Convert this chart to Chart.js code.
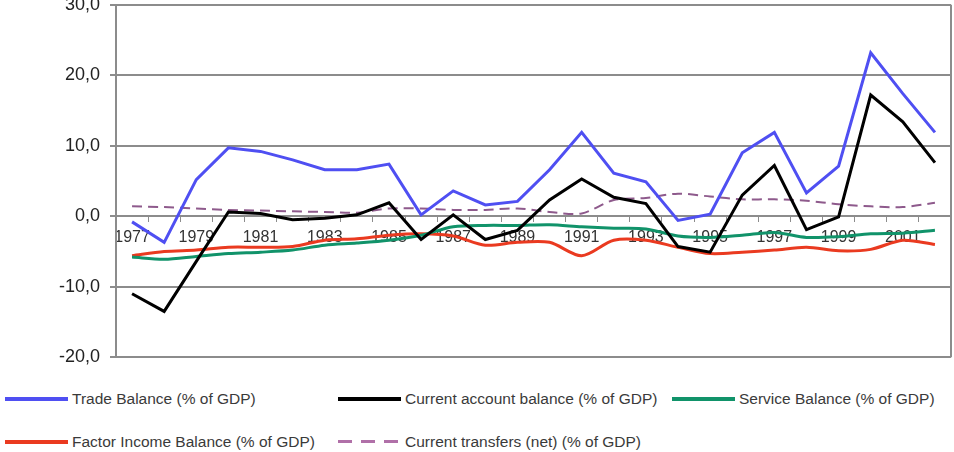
<!DOCTYPE html>
<html>
<head>
<meta charset="utf-8">
<script src="https://cdn.jsdelivr.net/npm/chart.js@4.4.0/dist/chart.umd.min.js"></script>
<style>
  body { margin: 0; background: #fff; width: 954px; height: 452px; overflow: hidden; position: relative; font-family: "Liberation Sans", Arial, sans-serif; }
  #wrap { position: absolute; left: 0; top: -16px; width: 954px; height: 394px; }
  .leg { position: absolute; height: 16px; }
  .leg .swatch { position: absolute; left: 0; top: 6px; width: 63px; height: 4px; }
  .leg .txt { position: absolute; left: 67px; top: 0; font-size: 15.5px; line-height: 16px; color: #3a3a3a; white-space: nowrap; }
</style>
</head>
<body>
<div id="wrap"><canvas id="myChart"></canvas></div>
<div id="legend"></div>
<script>
var years = ["1977", "1978", "1979", "1980", "1981", "1982", "1983", "1984", "1985", "1986", "1987", "1988", "1989",
  "1990", "1991", "1992", "1993", "1994", "1995", "1996", "1997", "1998", "1999", "2000", "2001", "2002"];

var tradeBalance = [-0.8, -3.7, 5.2, 9.7, 9.2, 8.0, 6.6, 6.6, 7.4, 0.2, 3.6, 1.6, 2.1,
  6.6, 11.9, 6.1, 4.9, -0.6, 0.3, 9.0, 11.9, 3.3, 7.1, 23.2, 17.4, 11.9];
var currentAccount = [-11.0, -13.5, -6.4, 0.6, 0.4, -0.5, -0.3, 0.2, 1.9, -3.3, 0.2, -3.3, -2.0,
  2.3, 5.3, 2.7, 1.8, -4.3, -5.1, 3.0, 7.2, -1.9, -0.1, 17.2, 13.4, 7.6];
var serviceBalance = [-5.8, -6.1, -5.7, -5.3, -5.1, -4.8, -4.1, -3.8, -3.4, -2.7, -1.5, -1.3, -1.3,
  -1.2, -1.5, -1.7, -1.8, -2.8, -3.0, -2.7, -2.3, -3.0, -2.9, -2.5, -2.4, -2.0];
var factorIncome = [-5.6, -5.0, -4.8, -4.4, -4.4, -4.3, -3.4, -3.2, -2.7, -2.5, -2.8, -4.1, -3.7,
  -3.7, -5.6, -3.4, -3.4, -4.4, -5.3, -5.1, -4.8, -4.4, -4.9, -4.7, -3.4, -4.0];
var currentTransfers = [1.4, 1.3, 1.1, 0.9, 0.8, 0.7, 0.6, 0.5, 1.1, 1.1, 0.9, 0.9, 1.1,
  0.6, 0.4, 2.3, 2.6, 3.2, 2.8, 2.4, 2.4, 2.2, 1.7, 1.4, 1.3, 1.9];

var yTicks = [-20, -10, 0, 10, 20, 30];

var datasets = [
  { label: "Trade Balance (% of GDP)", data: tradeBalance, borderColor: "#4f4ff2", borderWidth: 3, tension: 0 },
  { label: "Current account balance (% of GDP)", data: currentAccount, borderColor: "#000000", borderWidth: 3, tension: 0 },
  { label: "Service Balance (% of GDP)", data: serviceBalance, borderColor: "#11936a", borderWidth: 3, tension: 0.3 },
  { label: "Factor Income Balance (% of GDP)", data: factorIncome, borderColor: "#ea3a20", borderWidth: 3, tension: 0.3 },
  { label: "Current transfers (net) (% of GDP)", data: currentTransfers, borderColor: "#8e5a8c", borderWidth: 2, borderDash: [10, 6], tension: 0.3 }
];

// legend entry positions (left, line centre y)
var legendPos = [[5, 399], [338, 399], [672, 399], [5, 442], [338, 442]];

datasets.forEach(function (d) {
  d.pointRadius = 0;
  d.fill = false;
  d.order = d.label.indexOf("Current account") == 0 ? 0 : 1;
});

// right edge of the plot box
var boxPlugin = {
  id: "box",
  beforeDatasetsDraw: function (chart) {
    var a = chart.chartArea;
    var ctx = chart.ctx;
    ctx.save();
    ctx.strokeStyle = "#8c8c8c";
    ctx.lineWidth = 2;
    ctx.beginPath();
    ctx.moveTo(a.right, a.top);
    ctx.lineTo(a.right, a.bottom);
    ctx.stroke();
    ctx.restore();
  }
};

function setup() {
  var ctx = document.getElementById("myChart").getContext("2d");
  var myLineChart = new Chart(ctx, {
    type: "line",
    data: { labels: years, datasets: datasets },
    plugins: [boxPlugin],
    options: {
      responsive: true,
      maintainAspectRatio: false,
      animation: false,
      layout: { padding: { left: 0, right: 3 } },
      plugins: { legend: { display: false }, tooltip: { enabled: false } },
      scales: {
        x: {
          type: "category",
          position: { y: 0 },
          offset: true,
          grid: { offset: true, drawOnChartArea: false, color: "#8c8c8c", tickLength: 5 },
          border: { display: true, color: "#8c8c8c", width: 2 },
          ticks: {
            autoSkip: false,
            maxRotation: 0,
            padding: 7,
            color: "#333",
            font: { family: "'Liberation Sans', Arial, sans-serif", size: 16 },
            callback: function (val, i) { return i % 2 == 0 ? years[i] : ""; }
          }
        },
        y: {
          min: -20,
          max: 30,
          afterFit: function (s) { s.width = 116; },
          afterBuildTicks: function (s) { s.ticks = yTicks.map(function (v) { return { value: v }; }); },
          grid: { color: "#8c8c8c", lineWidth: 2, tickLength: 6 },
          border: { display: true, color: "#8c8c8c", width: 2 },
          ticks: {
            padding: 10,
            color: "#222",
            font: { family: "'Liberation Sans', Arial, sans-serif", size: 18 },
            callback: function (v) { return v.toFixed(1).replace(".", ","); }
          }
        }
      }
    }
  });
}

function buildLegend() {
  var legend = document.getElementById("legend");
  for (var i = 0; i < datasets.length; i++) {
    var d = datasets[i];
    var item = document.createElement("div");
    item.className = "leg";
    item.style.left = legendPos[i][0] + "px";
    item.style.top = (legendPos[i][1] - 8) + "px";
    var sw = document.createElement("div");
    sw.className = "swatch";
    if (d.borderDash) {
      sw.style.background = "repeating-linear-gradient(to right, #b070a8 0 14px, transparent 14px 23px)";
      sw.style.height = "3px";
    } else {
      sw.style.background = d.borderColor;
    }
    var tx = document.createElement("div");
    tx.className = "txt";
    tx.textContent = d.label;
    item.appendChild(sw);
    item.appendChild(tx);
    legend.appendChild(item);
  }
}

setup();
buildLegend();
</script>
</body>
</html>
